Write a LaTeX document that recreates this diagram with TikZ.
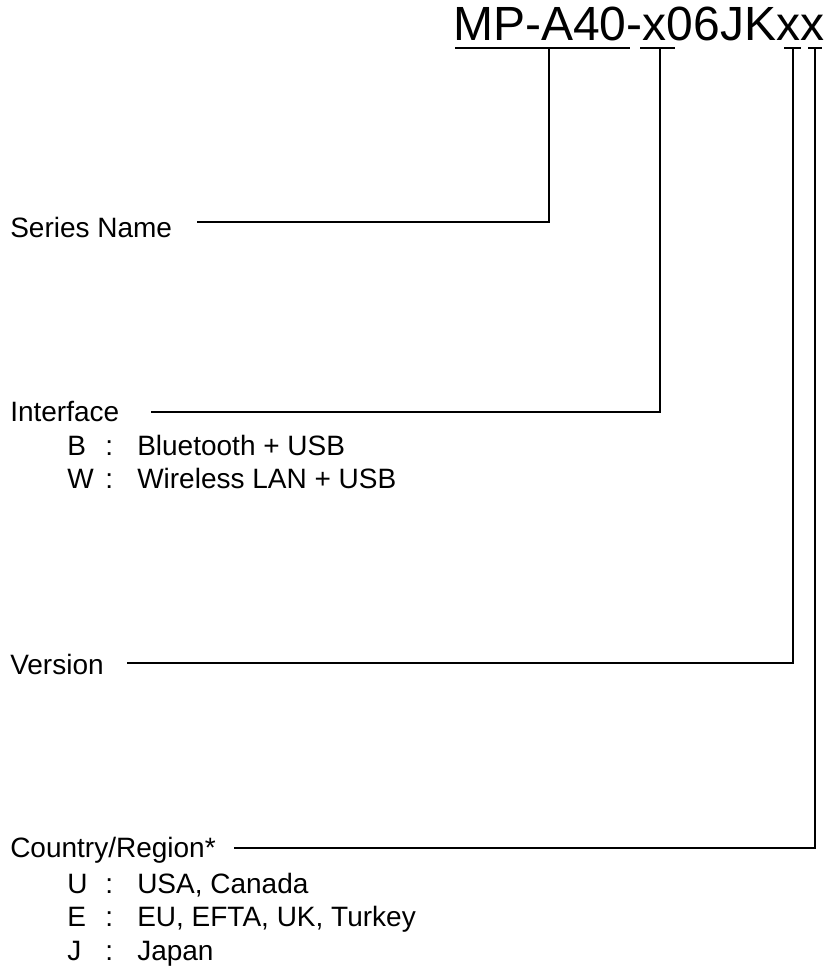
\documentclass[tikz,border=0pt]{standalone}
\usepackage{fontspec}
\setmainfont{Liberation Sans}
\usetikzlibrary{positioning}

\tikzset{
  lbl/.style={anchor=base west, inner sep=0pt, font=\fontsize{21}{25}\selectfont},
  lead/.style={line width=1.1pt, line cap=rect},
  uline/.style={line width=1.6pt}
}

\begin{document}
\begin{tikzpicture}[x=0.75pt, y=-0.75pt]
      % page frame
      \useasboundingbox (0,0) rectangle (832,971);

      % model number on top
      \node[anchor=base west, inner sep=0pt, font=\fontsize{36}{40}\selectfont] (title) at (453,40) {MP-A40-x06JKxx};

      % underlines below the model number
      \draw[uline] (455,48) -- (630,48);
      \draw[uline] (640,48) -- (675,48);
      \draw[uline] (784,48) -- (801,48);
      \draw[uline] (808,48) -- (822,48);
      \coordinate (ulSeries) at (549,48);
      \coordinate (ulIface) at (660,48);
      \coordinate (ulVer) at (793,48);
      \coordinate (ulCountry) at (815,48);

      % labels on the left
      \node[lbl] (series) at (10,237) {Series Name};
      \node[lbl] (iface) at (10,421) {Interface};
      \node[lbl] (version) at (10,674) {Version};
      \node[lbl] (country) at (10,857) {Country/Region*};

      % interface codes
      \node[lbl] (codeB) at (67,455) {B};
      \node[lbl] (colB) at (105,455) {:};
      \node[lbl] (txtB) at (137,455) {Bluetooth + USB};
      \node[lbl] (codeW) at (67,488) {W};
      \node[lbl] (colW) at (105,488) {:};
      \node[lbl] (txtW) at (137,488) {Wireless LAN + USB};

      % country codes
      \node[lbl] (codeU) at (67,893) {U};
      \node[lbl] (colU) at (105,893) {:};
      \node[lbl] (txtU) at (137,893) {USA, Canada};
      \node[lbl] (codeE) at (67,926) {E};
      \node[lbl] (colE) at (105,926) {:};
      \node[lbl] (txtE) at (137,926) {EU, EFTA, UK, Turkey};
      \node[lbl] (codeJ) at (67,960) {J};
      \node[lbl] (colJ) at (105,960) {:};
      \node[lbl] (txtJ) at (137,960) {Japan};

      % start points of the leader lines
      \coordinate (stSeries) at (198,222);
      \coordinate (stIface) at (152,412);
      \coordinate (stVer) at (128,663);
      \coordinate (stCountry) at (235,848);

      % leader lines
      \draw[lead] (stSeries) -| (ulSeries);
      \draw[lead] (stIface) -| (ulIface);
      \draw[lead] (stVer) -| (ulVer);
      \draw[lead] (stCountry) -| (ulCountry);
\end{tikzpicture}
\end{document}
